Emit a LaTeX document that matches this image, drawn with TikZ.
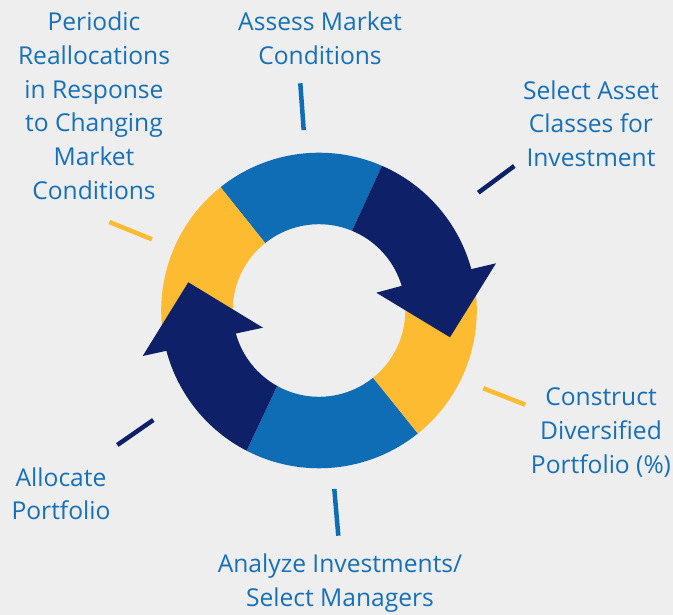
\documentclass[tikz,border=0pt]{standalone}
\usepackage{fontspec}
\setmainfont{Open Sans}
\definecolor{bgray}{RGB}{238,238,238}
\definecolor{ringblue}{RGB}{14,109,180}
\definecolor{navy}{RGB}{14,33,104}
\definecolor{gold}{RGB}{252,187,49}
\definecolor{txtblue}{RGB}{22,112,186}
\tikzset{
  label/.style={align=center, anchor=base, text=txtblue,
    font=\fontsize{24.6}{33.8}\selectfont, inner sep=0pt},
  tick/.style={line width=4.5pt}
}
\begin{document}
\begin{tikzpicture}[x=1pt,y=1pt]
  \fill[bgray] (0,0) rectangle (673,615);
  \useasboundingbox (0,0) rectangle (673,615);

  % ring
  \begin{scope}[shift={(319,304.5)}]
    \fill[ringblue] (66.5:157.8pt) arc[start angle=66.5, end angle=128.6, radius=157.8pt]
      -- (128.6:86.3pt) arc[start angle=128.6, end angle=67.5, radius=86.3pt] -- cycle;
    \fill[gold] (128.6:157.8pt) arc[start angle=128.6, end angle=205, radius=157.8pt]
      -- (205:86.3pt) arc[start angle=205, end angle=128.6, radius=86.3pt] -- cycle;
    \fill[ringblue] (242.7:157.8pt) arc[start angle=242.7, end angle=308.8, radius=157.8pt]
      -- (308.8:86.3pt) arc[start angle=308.8, end angle=241, radius=86.3pt] -- cycle;
    \fill[gold] (308.8:157.8pt) arc[start angle=308.8, end angle=385, radius=157.8pt]
      -- (385:86.3pt) arc[start angle=385, end angle=308.8, radius=86.3pt] -- cycle;
    % arrows
    \fill[navy] (66.5:157.8pt) arc[start angle=66.5, end angle=15.2, radius=157.8pt]
      -- (177,47.2) -- (131,-26.8) -- (57.3,17.8) -- (16.6:86.3pt)
      arc[start angle=16.6, end angle=67.5, radius=86.3pt] -- cycle;
    \fill[navy] (242.7:157.8pt) arc[start angle=242.7, end angle=194.8, radius=157.8pt]
      -- (-176.3,-45.5) -- (-130.7,28.2) -- (-56,-17.2) -- (195.5:86.3pt)
      arc[start angle=195.5, end angle=241, radius=86.3pt] -- cycle;
  \end{scope}

  % labels (anchored at the baseline of the last line)
  \node[label] (realloc) at (94,415.5) {Periodic\\Reallocations\\in Response\\to Changing\\Market\\Conditions};
  \node[label] (assess) at (320,550.7) {Assess Market\\Conditions};
  \node[label] (select) at (591,448.3) {Select Asset\\Classes for\\Investment};
  \node[label] (construct) at (601,141.6) {Construct\\Diversified\\Portfolio (\%)};
  \node[label] (allocate) at (61,95) {Allocate\\Portfolio};
  \node[label] (analyze) at (340,8.5) {Analyze Investments/\\Select Managers};

  % leader ticks
  \coordinate (t1a) at (300.3,531.7); \coordinate (t1b) at (303.7,485);
  \coordinate (t2a) at (514.3,449);   \coordinate (t2b) at (478.3,422.3);
  \coordinate (t3a) at (483.3,226.7); \coordinate (t3b) at (525.3,210.3);
  \coordinate (t4a) at (334.3,126);   \coordinate (t4b) at (338.3,79.3);
  \coordinate (t5a) at (153.3,195);   \coordinate (t5b) at (117.3,170);
  \coordinate (t6a) at (109.3,393);   \coordinate (t6b) at (152,375.7);
  \draw[tick, ringblue] (t1a) -- (t1b);
  \draw[tick, navy] (t2a) -- (t2b);
  \draw[tick, gold] (t3a) -- (t3b);
  \draw[tick, ringblue] (t4a) -- (t4b);
  \draw[tick, navy] (t5a) -- (t5b);
  \draw[tick, gold] (t6a) -- (t6b);
\end{tikzpicture}
\end{document}
